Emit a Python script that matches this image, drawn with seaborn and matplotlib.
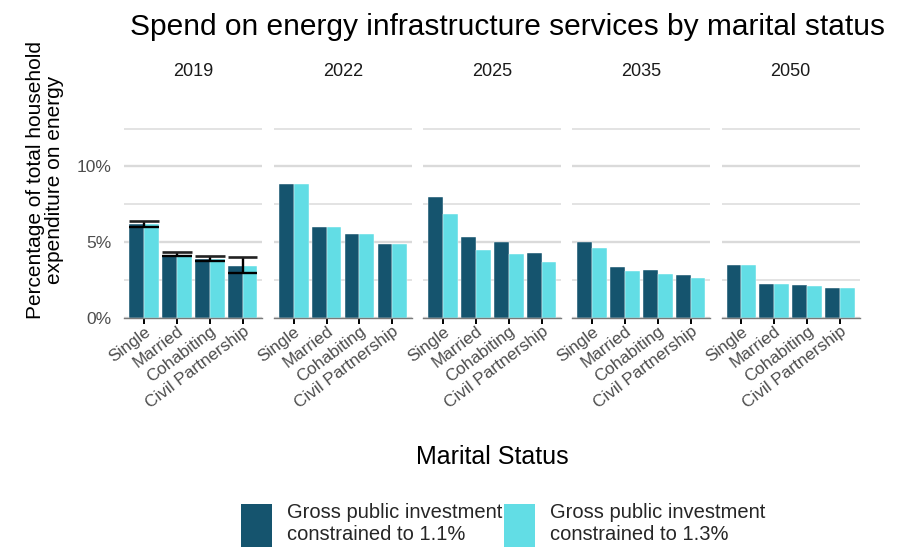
import numpy as np
import pandas as pd
import matplotlib
matplotlib.use("Agg")
import matplotlib.pyplot as plt
import seaborn as sns
from matplotlib.patches import Patch
from matplotlib.ticker import FixedLocator, PercentFormatter

years = ["2019", "2022", "2025", "2035", "2050"]
statuses = ["Single", "Married", "Cohabiting", "Civil Partnership"]
scenarios = ["Gross public investment\nconstrained to 1.1%",
             "Gross public investment\nconstrained to 1.3%"]

# Share of household energy spend (%) per year, status order as above
low_invest = {
    "2019": [6.18, 4.07, 3.87, 3.43],
    "2022": [8.81, 5.97, 5.50, 4.88],
    "2025": [7.99, 5.30, 4.97, 4.29],
    "2035": [4.99, 3.36, 3.14, 2.79],
    "2050": [3.49, 2.21, 2.13, 1.93],
}
high_invest = {
    "2019": [6.18, 4.07, 3.87, 3.43],
    "2022": [8.81, 5.97, 5.50, 4.88],
    "2025": [6.82, 4.46, 4.22, 3.65],
    "2035": [4.60, 3.05, 2.88, 2.59],
    "2050": [3.45, 2.20, 2.11, 1.92],
}
# Uncertainty range available for the 2019 base year
err_year = "2019"
err_low = [6.00, 4.10, 3.76, 2.96]
err_high = [6.38, 4.33, 4.07, 4.02]

colors = ["#15546E", "#62DDE5"]

rows = []
for y in years:
    for s, a, b in zip(statuses, low_invest[y], high_invest[y]):
        rows.append({"year": y, "status": s, "scenario": scenarios[0], "value": a})
        rows.append({"year": y, "status": s, "scenario": scenarios[1], "value": b})
df = pd.DataFrame(rows)

sns.set_theme(style="white")
plt.rcParams["font.family"] = ["Liberation Sans", "DejaVu Sans"]

W, H = 902, 548
fig = plt.figure(figsize=(W / 100, H / 100), dpi=100)

panel_left = [124.3, 274.0, 423.3, 572.3, 721.7]
panel_w = 138.0
y0_px = 317.5
ymax = 13.0
px_per_pct = 15.12
top_px = y0_px - ymax * px_per_pct

grid_major = [0, 5, 10]
grid_minor = [2.5, 7.5, 12.5]

for i, y in enumerate(years):
    ax = fig.add_axes([panel_left[i] / W, 1 - y0_px / H, panel_w / W,
                       (y0_px - top_px) / H])
    sub = df[df["year"] == y]
    sns.barplot(data=sub, x="status", y="value", hue="scenario",
                order=statuses, hue_order=scenarios, palette=colors,
                saturation=1, width=0.9, errorbar=None, ax=ax, legend=False,
                edgecolor="white", linewidth=0.3, zorder=3)
    if y == err_year:
        xs = np.arange(len(statuses))
        ax.vlines(xs, err_low, err_high, color="black", lw=1.7, zorder=5)
        ax.hlines(err_low, xs - 0.45, xs + 0.45, color="black", lw=1.7, zorder=5)
        ax.hlines(err_high, xs - 0.45, xs + 0.45, color="#222222", lw=1.9, zorder=5)
    ax.set_xlim(-0.6, 3.6)
    ax.set_ylim(0, ymax)
    for g in grid_major:
        ax.axhline(g, color="#DADADA", lw=1.7, zorder=0)
    for g in grid_minor:
        ax.axhline(g, color="#E0E0E0", lw=1.3, zorder=0)
    for sp in ["top", "right", "left"]:
        ax.spines[sp].set_visible(False)
    ax.spines["bottom"].set_color("#7A7A7A")
    ax.spines["bottom"].set_linewidth(1.0)
    ax.spines["bottom"].set_zorder(6)
    ax.set_xlabel("")
    ax.set_ylabel("")
    ax.tick_params(axis="x", length=4.5, width=1.4, color="black",
                   labelsize=12.3, labelcolor="#4D4D4D", pad=0, bottom=True)
    ax.set_xticks(range(len(statuses)))
    ax.set_xticklabels(statuses, rotation=37, ha="right",
                       rotation_mode="anchor")
    ax.yaxis.set_major_locator(FixedLocator(grid_major))
    ax.yaxis.set_major_formatter(PercentFormatter(decimals=0))
    if i == 0:
        ax.tick_params(axis="y", length=0, labelsize=12.5,
                       labelcolor="#4D4D4D", pad=9, left=False)
    else:
        ax.tick_params(axis="y", left=False, labelleft=False)
    ax.grid(False)
    ax.set_facecolor("none")
    ax.text(0.5, (72 - top_px) / (top_px - y0_px) + 1.0, y,
            transform=ax.transAxes, ha="center", va="center",
            fontsize=13, color="#1A1A1A")

fig.text(507 / W, 1 - 27 / H,
         "Spend on energy infrastructure services by marital status",
         ha="center", va="center", fontsize=21.5, color="black")
fig.text(45 / W, 1 - 180 / H,
         "Percentage of total household\nexpenditure on energy",
         ha="center", va="center", rotation=90, fontsize=15,
         color="black", linespacing=0.95)
fig.text(492 / W, 1 - 457 / H, "Marital Status", ha="center", va="center",
         fontsize=18, color="black")

handles = [Patch(facecolor=c, edgecolor="none") for c in colors]
fig.legend(handles, scenarios, loc="center", bbox_to_anchor=(503 / W, 1 - 525 / H),
           ncol=2, frameon=False, fontsize=14.5, handlelength=1.55,
           handleheight=2.9, handletextpad=0.75, columnspacing=0.05,
           labelspacing=0.2, borderpad=0)

fig.savefig("out.png", dpi=100, facecolor="white")
